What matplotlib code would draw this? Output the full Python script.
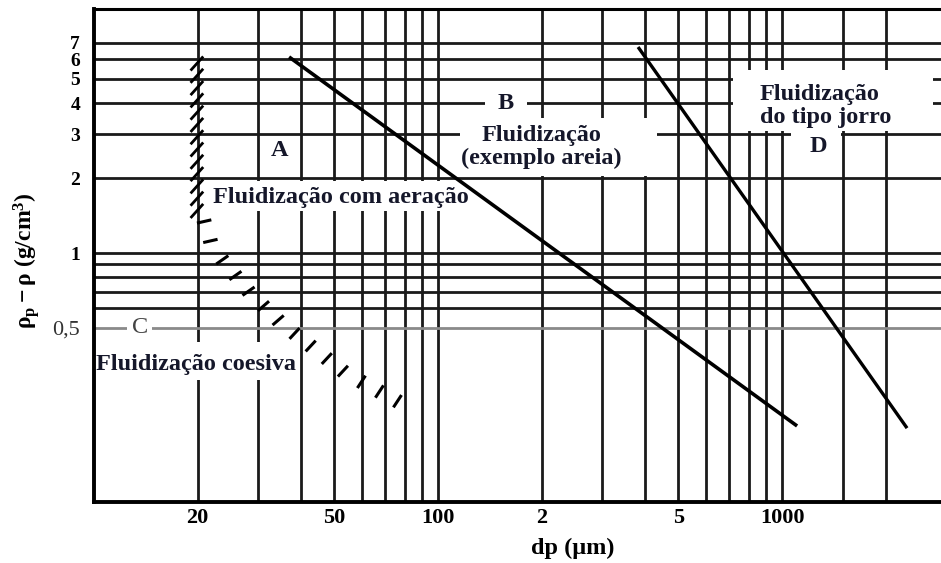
import matplotlib
matplotlib.use("Agg")
import matplotlib.pyplot as plt
from matplotlib import patheffects
from matplotlib.patches import Rectangle

plt.rcParams["font.family"] = ["Liberation Serif", "DejaVu Serif"]
plt.rcParams["mathtext.fontset"] = "custom"
plt.rcParams["mathtext.rm"] = "Liberation Serif:bold"
plt.rcParams["mathtext.it"] = "Liberation Serif:bold"
plt.rcParams["mathtext.bf"] = "Liberation Serif:bold"

# ---- chart data -------------------------------------------------------
dp_grid = [20, 30, 40, 50, 60, 70, 80, 90, 100,
           200, 300, 400, 500, 600, 700, 800, 900, 1000, 1500, 2000]
rho_grid = [0.6, 0.7, 0.8, 0.9, 1, 2, 3, 4, 5, 6, 7]
rho_grid_light = [0.5]

dp_ticks = [20, 50, 100, 200, 500, 1000]
dp_tick_labels = ["20", "50", "100", "2", "5", "1000"]
rho_ticks = [0.5, 1, 2, 3, 4, 5, 6, 7]
rho_tick_labels = ["0,5", "1", "2", "3", "4", "5", "6", "7"]

# A / B boundary
ab_dp = [36.9, 1106]
ab_rho = [6.13, 0.202]
# B / D boundary
bd_dp = [381.5, 2309]
bd_rho = [6.72, 0.198]
# C / A boundary (hatched): vertical part and curved lower part
ca_upper_dp = [20, 20]
ca_upper_rho = [1.42, 6.2]
ca_lower_dp = [80.2, 53.7, 34.7, 28.4, 22.3, 20.7]
ca_lower_rho = [0.245, 0.330, 0.528, 0.691, 1.03, 1.42]

# ---- figure -----------------------------------------------------------
W, H = 941, 563
fig = plt.figure(figsize=(W / 100, H / 100), dpi=100)
ax = fig.add_axes([94 / W, (H - 502) / H, 847 / W, 493 / H])
ax.set_xscale("log")
ax.set_yscale("log")
ax.set_xlim(10, 2898)
ax.set_ylim(0.1, 9.55)

line_c = "#1a1a1a"
for v in dp_grid:
    ax.axvline(v, color=line_c, lw=2.0, zorder=1)
for v in rho_grid:
    ax.axhline(v, color=line_c, lw=2.0, zorder=1)
for v in rho_grid_light:
    ax.axhline(v, color="#8a8a8a", lw=2.0, zorder=1)

# white panels behind the region labels
panels = [
    (21.4, 130.7, 1.475, 1.946),
    (10.0, 39.2, 0.309, 0.439),
    (136.9, 181.4, 3.50, 4.43),
    (115.9, 433, 2.03, 3.48),
    (720, 2748, 3.08, 5.43),
    (1060, 1480, 2.36, 3.09),
    (12.47, 14.74, 0.473, 0.538),
]
for x0, x1, y0, y1 in panels:
    ax.add_patch(Rectangle((x0, y0), x1 - x0, y1 - y0, facecolor="white",
                           edgecolor="none", zorder=1.5))

# group boundaries
ax.plot(ab_dp, ab_rho, color="black", lw=2.6, solid_capstyle="butt", zorder=3)
ax.plot(bd_dp, bd_rho, color="black", lw=2.4, solid_capstyle="butt", zorder=3)

ax.plot(ca_upper_dp, ca_upper_rho, color="none", lw=0, zorder=3,
        path_effects=[patheffects.TickedStroke(spacing=8.6, angle=138, length=1.35,
                                               offset=(3.4, 3.0), linewidth=2.0,
                                               foreground="black")])
ax.plot(ca_lower_dp, ca_lower_rho, color="none", lw=0, zorder=3,
        path_effects=[patheffects.TickedStroke(spacing=14.0, angle=85, length=0.6,
                                               offset=(3.0, 3.0), linewidth=2.2,
                                               foreground="black")])

# region labels
txt_c = "#15172a"
fs = 17.5
ax.text(34.7, 2.59, "A", fontsize=fs, fontweight="bold", color=txt_c,
        ha="center", va="center", zorder=4)
ax.text(157.6, 4.0, "B", fontsize=fs, fontweight="bold", color=txt_c,
        ha="center", va="center", zorder=4)
ax.text(13.6, 0.5, "C", fontsize=fs, color="#444444",
        ha="center", va="center", zorder=4)
ax.text(1273, 2.666, "D", fontsize=fs, fontweight="bold", color=txt_c,
        ha="center", va="center", zorder=4)
ax.text(200, 2.666, "Fluidização\n(exemplo areia)", fontsize=fs, fontweight="bold",
        color=txt_c, ha="center", va="center", multialignment="center",
        linespacing=1.15, zorder=4)
ax.text(22.2, 1.678, "Fluidização com aeração", fontsize=fs, fontweight="bold",
        color=txt_c, ha="left", va="center", zorder=4)
ax.text(10.13, 0.355, "Fluidização coesiva", fontsize=fs, fontweight="bold",
        color=txt_c, ha="left", va="center", zorder=4)
ax.text(863, 3.89, "Fluidização\ndo tipo jorro", fontsize=fs, fontweight="bold",
        color=txt_c, ha="left", va="center", linespacing=1.1, zorder=4)

# axes styling
ax.minorticks_off()
ax.set_xticks(dp_ticks, dp_tick_labels)
ax.set_yticks(rho_ticks, rho_tick_labels)
ax.tick_params(axis="both", length=0)
ax.tick_params(axis="x", pad=4, labelsize=16)
ax.tick_params(axis="y", pad=10, labelsize=14)
for lab in ax.get_xticklabels():
    lab.set_fontweight("bold")
for lab, txt in zip(ax.get_yticklabels(), rho_tick_labels):
    if txt == "0,5":
        lab.set_color("#333333")
        lab.set_fontsize(16)
    else:
        lab.set_fontweight("bold")

for side in ("left", "bottom"):
    ax.spines[side].set_linewidth(2.8)
ax.spines["top"].set_linewidth(2.2)
ax.spines["right"].set_visible(False)
for sp in ax.spines.values():
    sp.set_zorder(5)

fig.text(573 / W, 1 - 548 / H, "dp (μm)", fontsize=fs, fontweight="bold",
         ha="center", va="center")
fig.text(27 / W, 1 - 261 / H, r"$\rho_p - \rho$ (g/cm$^3$)", fontsize=17,
         fontweight="bold", rotation=90, ha="center", va="center")

fig.savefig("out.png", dpi=100)
